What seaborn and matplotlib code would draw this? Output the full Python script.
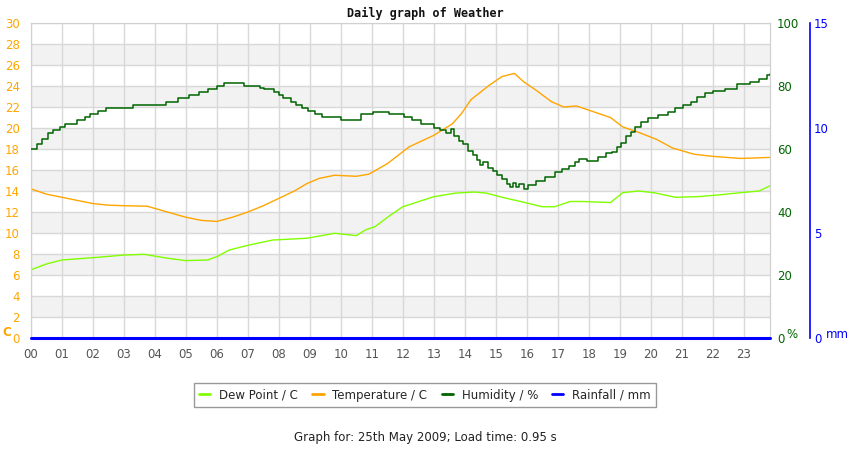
import matplotlib.pyplot as plt
from matplotlib.lines import Line2D
import pandas as pd
import seaborn as sns

# Temperature / C
temp_hours = [0, 0.5, 1.0, 1.5, 2.0, 2.5, 3.0, 3.75, 4.4, 5.0, 5.5, 6.0, 6.5, 7.0, 7.5, 8.0,
              8.5, 8.9, 9.3, 9.8, 10.5, 10.9, 11.5, 12.2, 13.0, 13.6, 13.9, 14.2, 14.8, 15.2,
              15.6, 15.9, 16.3, 16.8, 17.2, 17.6, 18.1, 18.7, 19.1, 19.6, 20.2, 20.7, 21.4,
              22.0, 22.9, 23.85]
temp = [14.2, 13.7, 13.4, 13.1, 12.8, 12.65, 12.6, 12.55, 12.0, 11.5, 11.2, 11.1, 11.5, 12.0,
        12.6, 13.3, 14.0, 14.7, 15.2, 15.5, 15.4, 15.6, 16.6, 18.2, 19.3, 20.4, 21.4, 22.7,
        24.1, 24.9, 25.2, 24.4, 23.6, 22.5, 22.0, 22.1, 21.6, 21.0, 20.1, 19.6, 18.9, 18.1,
        17.5, 17.3, 17.1, 17.2]

# Dew Point / C
dew_hours = [0, 0.5, 1.0, 2.0, 3.0, 3.65, 4.4, 5.0, 5.7, 6.0, 6.4, 7.0, 7.8, 8.9, 9.8, 10.5,
             10.8, 11.1, 11.6, 12.0, 13.0, 13.7, 14.3, 14.7, 15.2, 15.8, 16.5, 16.9, 17.4,
             17.8, 18.7, 19.1, 19.6, 20.1, 20.8, 21.5, 22.1, 22.9, 23.5, 23.85]
dew = [6.5, 7.05, 7.43, 7.65, 7.9, 7.97, 7.6, 7.37, 7.43, 7.75, 8.38, 8.83, 9.33, 9.5, 9.97,
       9.75, 10.3, 10.6, 11.7, 12.5, 13.46, 13.8, 13.9, 13.8, 13.4, 13.0, 12.5, 12.5, 13.0,
       13.0, 12.9, 13.84, 14.0, 13.84, 13.4, 13.46, 13.6, 13.84, 14.0, 14.5]

# Humidity / %
hum_hours = [0.0, 0.18, 0.34, 0.56, 0.72, 0.94, 1.1, 1.47, 1.74, 1.9, 2.17, 2.42, 3.3, 4.37,
             4.75, 5.1, 5.43, 5.72, 6.0, 6.24, 6.88, 7.4, 7.53, 7.85, 8.0, 8.14, 8.38, 8.54,
             8.75, 8.95, 9.15, 9.4, 10.0, 10.65, 11.05, 11.55, 12.05, 12.3, 12.6, 13.0, 13.2,
             13.4, 13.55, 13.65, 13.8, 13.95, 14.1, 14.25, 14.4, 14.5, 14.6, 14.75, 14.9,
             15.05, 15.2, 15.35, 15.45, 15.55, 15.65, 15.75, 15.9, 16.05, 16.3, 16.6, 16.9,
             17.15, 17.35, 17.55, 17.7, 17.95, 18.3, 18.55, 18.75, 18.9, 19.05, 19.2, 19.35,
             19.5, 19.7, 19.9, 20.25, 20.55, 20.8, 21.05, 21.3, 21.5, 21.75, 22.0, 22.4, 22.8,
             23.2, 23.5, 23.75, 23.85]
hum = [60.0, 61.7, 63.3, 65.0, 66.0, 67.0, 68.0, 69.3, 70.2, 71.0, 72.0, 73.0, 74.0, 75.0,
       76.2, 77.2, 78.2, 79.0, 80.0, 81.0, 80.0, 79.3, 79.2, 78.2, 77.2, 76.2, 75.0, 74.0,
       73.0, 72.0, 71.0, 70.2, 69.2, 71.0, 71.8, 71.1, 70.3, 69.2, 67.8, 66.8, 66.0,
       65.0, 66.2, 64.0, 62.5, 61.5, 59.5, 58.0, 56.5, 55.0, 56.0, 54.0, 53.0,
       51.8, 50.5, 49.0, 48.0, 49.2, 48.0, 49.0, 47.2, 48.5, 50.0, 51.0, 52.8,
       53.8, 54.6, 56.0, 56.8, 56.3, 57.6, 58.6, 59.2, 60.5, 62.0, 64.0, 65.5,
       67.0, 68.5, 70.0, 70.8, 71.7, 73.0, 74.0, 75.0, 76.5, 77.8, 78.3, 79.2, 80.5,
       81.3, 82.2, 83.5, 83.8]

# Rainfall / mm
rain_hours = [0, 23.85]
rain = [0, 0]

x_tick_labels = ["%02d" % h for h in range(24)]
temp_ticks = list(range(0, 31, 2))
hum_ticks = [0, 20, 40, 60, 80, 100]
rain_ticks = [0, 5, 10, 15]

c_dew = "#80ff00"
c_temp = "#ffa500"
c_hum = "#006400"
c_rain = "#0000ff"

sns.set_style("white")
plt.rcParams["font.family"] = ["DejaVu Sans"]

fig = plt.figure(figsize=(8.5, 4.5), dpi=100)
ax = fig.add_axes([31 / 850, 1 - 338 / 450, 739 / 850, 315 / 450])
ax2 = ax.twinx()
ax3 = ax.twinx()

# background bands + grid
for lo in range(2, 30, 4):
    ax.axhspan(lo, lo + 2, color="#f2f2f2", zorder=0, lw=0)
ax.set_axisbelow(True)
ax.grid(True, color="#d8d8d8", lw=1)

sns.lineplot(x=temp_hours, y=temp, ax=ax, color=c_temp, lw=1, sort=False)
sns.lineplot(x=dew_hours, y=dew, ax=ax, color=c_dew, lw=1, sort=False)
sns.lineplot(x=hum_hours, y=hum, ax=ax2, color=c_hum, lw=1.1, sort=False,
             drawstyle="steps-post")
sns.lineplot(x=rain_hours, y=rain, ax=ax3, color=c_rain, lw=2.2, sort=False, clip_on=False)

ax.set_xlim(0, 23.85)
ax.set_ylim(0, 30)
ax2.set_ylim(0, 100)
ax3.set_ylim(0, 15)

ax.set_xticks(range(24))
ax.set_xticklabels(x_tick_labels, fontsize=8.5, color="#555555")
ax.set_yticks(temp_ticks)
ax.set_yticklabels([str(t) for t in temp_ticks], fontsize=8.5, color=c_temp)
ax.tick_params(axis="both", length=0)
ax.tick_params(axis="y", pad=8)
ax.tick_params(axis="x", pad=7)

ax2.set_yticks(hum_ticks)
ax2.set_yticklabels([str(t) for t in hum_ticks], fontsize=8.5, color=c_hum)
ax2.tick_params(axis="y", length=0, pad=5)

ax3.spines["right"].set_position(("outward", 28.8))
ax3.spines["right"].set_color(c_rain)
ax3.spines["right"].set_linewidth(1.2)
ax3.set_yticks(rain_ticks)
ax3.set_yticklabels([str(t) for t in rain_ticks], fontsize=8.5, color=c_rain)
ax3.tick_params(axis="y", length=0, pad=3)

for a in (ax, ax2, ax3):
    a.set_xlabel("")
    a.set_ylabel("")
for s in ("left", "top", "bottom", "right"):
    ax.spines[s].set_color("#d0d0d0")
for s in ("left", "top", "bottom"):
    ax2.spines[s].set_visible(False)
    ax3.spines[s].set_visible(False)
ax2.spines["right"].set_color("#d0d0d0")

fig.text(2 / 850, 1 - 332 / 450, "C", fontsize=8.5, color=c_temp, fontweight="bold",
         ha="left", va="center")
fig.text(786 / 850, 1 - 334 / 450, "%", fontsize=8.5, color=c_hum, ha="left", va="center")
fig.text(826 / 850, 1 - 335 / 450, "mm", fontsize=8.5, color=c_rain, ha="left", va="center")

fig.text(0.5, 1 - 13 / 450, "Daily graph of Weather", fontsize=8.5, fontweight="bold",
         family="DejaVu Sans Mono", ha="center", va="center", color="#111111")

handles = [Line2D([], [], color=c_dew, lw=2), Line2D([], [], color=c_temp, lw=2),
           Line2D([], [], color=c_hum, lw=2), Line2D([], [], color=c_rain, lw=2)]
labels = ["Dew Point / C", "Temperature / C", "Humidity / %", "Rainfall / mm"]
leg = fig.legend(handles, labels, loc="center", bbox_to_anchor=(0.5, 1 - 395 / 450), ncol=4,
                 fontsize=8.5, frameon=True, fancybox=False, edgecolor="#808080",
                 handlelength=0.95, handletextpad=0.75, columnspacing=1.2, borderpad=0.45)
leg.get_frame().set_linewidth(1)

fig.text(0.5, 1 - 438 / 450, "Graph for: 25th May 2009; Load time: 0.95 s", fontsize=8.5,
         ha="center", va="center", color="#222222")

fig.savefig("out.png", dpi=100)
